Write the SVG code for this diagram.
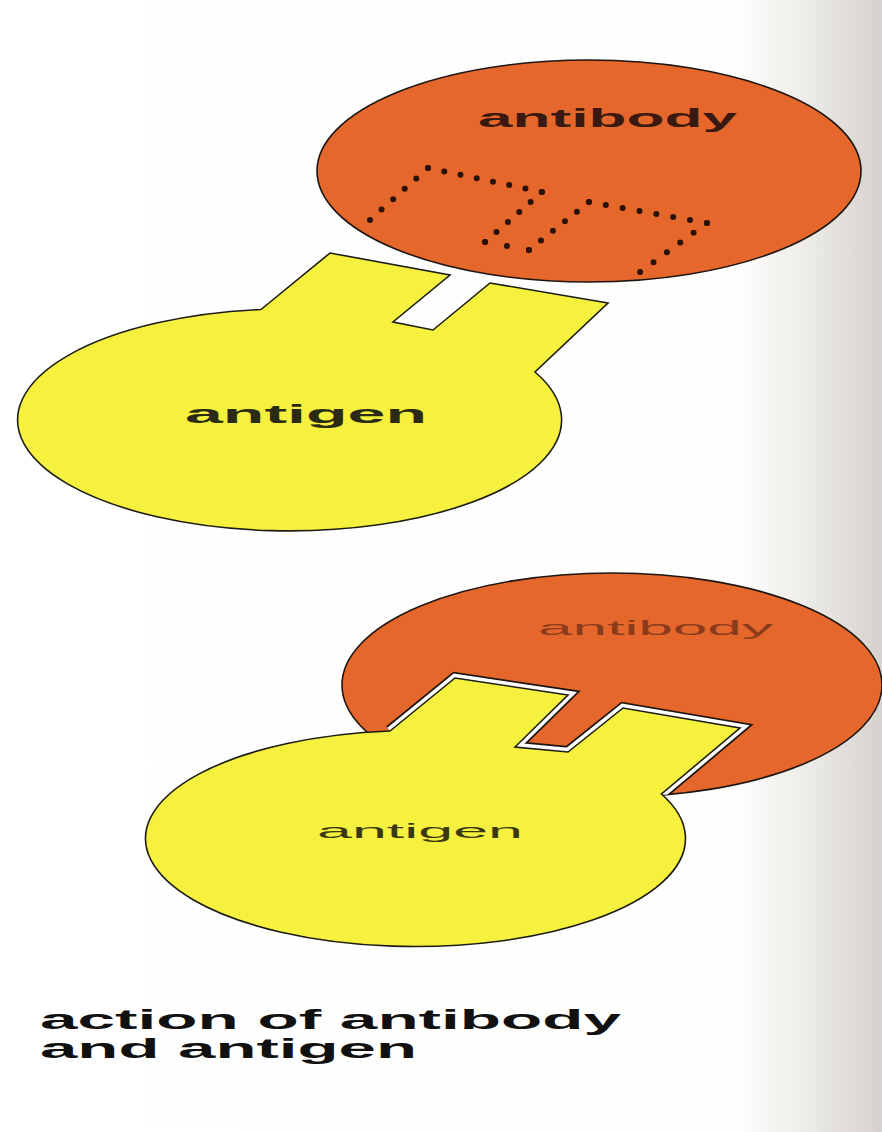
<svg xmlns="http://www.w3.org/2000/svg" width="882" height="1132" viewBox="0 0 882 1132">
  <defs>
    <linearGradient id="paper" x1="0" y1="0" x2="1" y2="0">
      <stop offset="0" stop-color="#ffffff"/>
      <stop offset="0.84" stop-color="#fefefd"/>
      <stop offset="0.92" stop-color="#eceae6"/>
      <stop offset="1" stop-color="#d5d2cd"/>
    </linearGradient>
    <!-- outline of the bound antibody, used to keep the notch edge inside it -->
    <clipPath id="boundBodyClip">
      <ellipse cx="612" cy="685" rx="270" ry="112"/>
    </clipPath>
    <style>
      .body { fill: #e5672b; stroke: #1e1510; stroke-width: 1.6; }
      .gen { fill: #f6f13e; stroke: #1c1c14; stroke-width: 1.6; stroke-linejoin: miter; }
      .dots { fill: none; stroke: #2a1208; stroke-width: 6; stroke-linecap: round; }
      .label { font-family: "Liberation Sans", Arial, Helvetica, sans-serif; }
      .strong { font-weight: bold; }
      .notchEdge { fill: none; stroke: #1e1510; stroke-width: 12; stroke-linejoin: miter; }
      .notchGap { fill: none; stroke: #ffffff; stroke-width: 8.5; stroke-linejoin: miter; }
    </style>
  </defs>

  <!-- page -->
  <rect x="0" y="0" width="882" height="1132" fill="url(#paper)"/>

  <!-- free antibody with its dotted binding site -->
  <g id="antibody-free">
    <ellipse class="body" cx="589" cy="171" rx="272" ry="111"/>
    <line class="dots" x1="370" y1="220" x2="428" y2="168" stroke-dasharray="0 15.55"/>
    <line class="dots" x1="428" y1="168" x2="542" y2="192" stroke-dasharray="0 16.6"/>
    <line class="dots" x1="542" y1="192" x2="485" y2="242" stroke-dasharray="0 15.13"/>
    <line class="dots" x1="485" y1="242" x2="529" y2="250" stroke-dasharray="0 22.3"/>
    <line class="dots" x1="529" y1="250" x2="589" y2="202" stroke-dasharray="0 15.34"/>
    <line class="dots" x1="589" y1="202" x2="707" y2="223" stroke-dasharray="0 17.1"/>
    <line class="dots" x1="707" y1="223" x2="640" y2="272" stroke-dasharray="0 16.57"/>
    <text class="label strong" x="478" y="127" font-size="26" fill="#3a1a10" textLength="259" lengthAdjust="spacingAndGlyphs">antibody</text>
  </g>

  <!-- free antigen -->
  <g id="antigen-free">
    <path class="gen" d="M261,309.5 L330,253 L450,275 L393,322 L433,330 L490,283 L608,303 L535,372 A272,111 0 1 1 261,309.5 Z"/>
    <text class="label strong" x="185" y="423" font-size="25" fill="#2b2a14" textLength="242" lengthAdjust="spacingAndGlyphs">antigen</text>
  </g>

  <!-- bound antibody -->
  <g id="antibody-bound">
    <ellipse class="body" cx="612" cy="685" rx="270" ry="112"/>
    <text class="label" x="538" y="635" font-size="21" fill="#8a3b1c" textLength="235" lengthAdjust="spacingAndGlyphs">antibody</text>
    <!-- notch edge and gap around the seated antigen -->
    <g clip-path="url(#boundBodyClip)">
      <path class="notchEdge" d="M390,731 L455,678 L568,695 L515,747 L568,752 L623,708 L740,728 L661.5,794"/>
      <path class="notchGap" d="M390,731 L455,678 L568,695 L515,747 L568,752 L623,708 L740,728 L661.5,794"/>
    </g>
  </g>

  <!-- bound antigen -->
  <g id="antigen-bound">
    <path class="gen" d="M390,731 L455,678 L568,695 L515,747 L568,752 L623,708 L740,728 L661.5,794 A270,108 0 1 1 390,731 Z"/>
    <text class="label" x="317" y="838" font-size="21" fill="#3a3812" textLength="206" lengthAdjust="spacingAndGlyphs">antigen</text>
  </g>

  <!-- caption -->
  <g id="caption" class="label strong" fill="#111111" font-size="27">
    <text x="40" y="1029" textLength="581" lengthAdjust="spacingAndGlyphs">action of antibody</text>
    <text x="40" y="1058" textLength="377" lengthAdjust="spacingAndGlyphs">and antigen</text>
  </g>
</svg>
